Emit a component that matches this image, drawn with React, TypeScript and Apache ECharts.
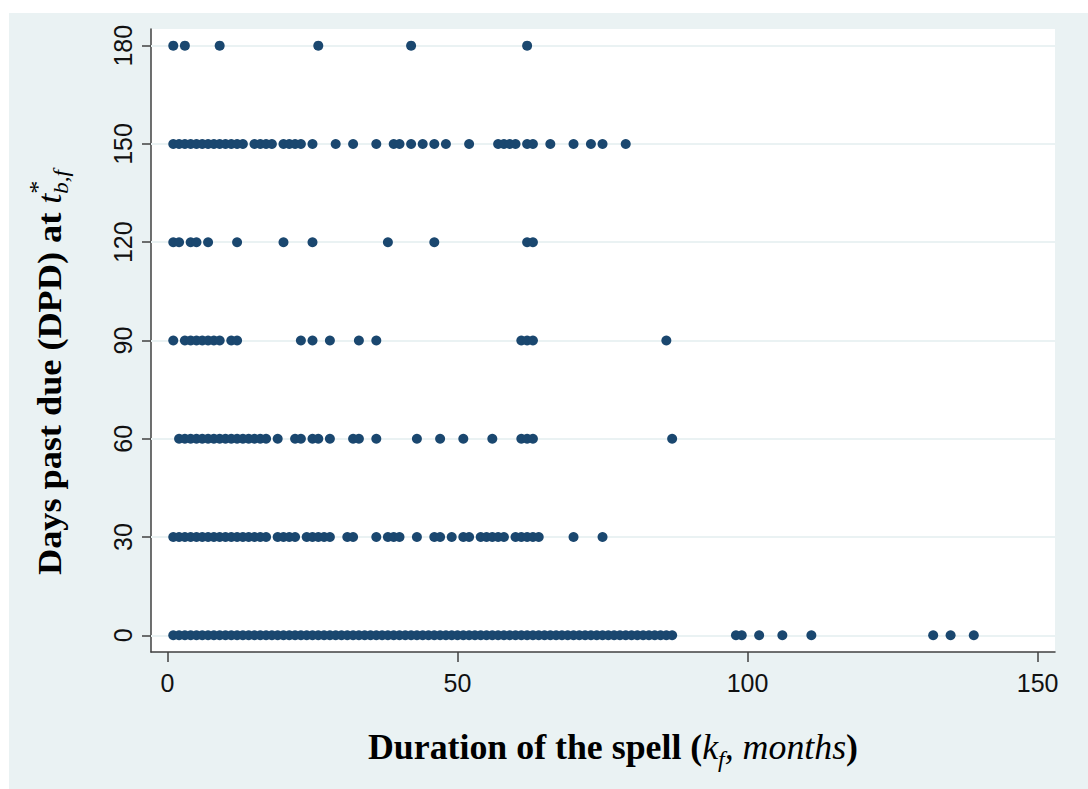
import React, { useEffect, useRef } from "react";
import * as echarts from "echarts";

// ---- data (duration of the spell in months, per DPD level) ----
const yTicks = [0, 30, 60, 90, 120, 150, 180];
const xTicks = [0, 50, 100, 150];

const dpd180 = [1, 3, 9, 26, 42, 62];
const dpd150 = [1, 2, 3, 4, 5, 6, 7, 8, 9, 10, 11, 12, 13, 15, 16, 17, 18, 20, 21, 22, 23, 25, 29, 32, 36, 39, 40, 42, 44, 46, 48, 52, 57, 58, 59, 60, 62, 63, 66, 70, 73, 75, 79];
const dpd120 = [1, 2, 4, 5, 7, 12, 20, 25, 38, 46, 62, 63];
const dpd90 = [1, 3, 4, 5, 6, 7, 8, 9, 11, 12, 23, 25, 28, 33, 36, 61, 62, 63, 86];
const dpd60 = [2, 3, 4, 5, 6, 7, 8, 9, 10, 11, 12, 13, 14, 15, 16, 17, 19, 22, 23, 25, 26, 28, 32, 33, 36, 43, 47, 51, 56, 61, 62, 63, 87];
const dpd30 = [1, 2, 3, 4, 5, 6, 7, 8, 9, 10, 11, 12, 13, 14, 15, 16, 17, 19, 20, 21, 22, 24, 25, 26, 27, 28, 31, 32, 36, 38, 39, 40, 43, 46, 47, 49, 51, 52, 54, 55, 56, 57, 58, 60, 61, 62, 63, 64, 70, 75];
const dpd0 = [1, 2, 3, 4, 5, 6, 7, 8, 9, 10, 11, 12, 13, 14, 15, 16, 17, 18, 19, 20, 21, 22, 23, 24, 25, 26, 27, 28, 29, 30, 31, 32, 33, 34, 35, 36, 37, 38, 39, 40, 41, 42, 43, 44, 45, 46, 47, 48, 49, 50, 51, 52, 53, 54, 55, 56, 57, 58, 59, 60, 61, 62, 63, 64, 65, 66, 67, 68, 69, 70, 71, 72, 73, 74, 75, 76, 77, 78, 79, 80, 81, 82, 83, 84, 85, 86, 87, 98, 99, 102, 106, 111, 132, 135, 139];

const rows: [number, number[]][] = [
  [0, dpd0],
  [30, dpd30],
  [60, dpd60],
  [90, dpd90],
  [120, dpd120],
  [150, dpd150],
  [180, dpd180],
];

const SERIF = '"Liberation Serif", "DejaVu Serif", serif';
const SANS = '"Liberation Sans", Arial, sans-serif';
const BG = "#eaf2f3";
const MARK = "#1a476f";

type Run = { text: string; size: number; bold?: boolean; italic?: boolean; dy?: number; advance?: boolean };

function measure(text: string, font: string): number {
  const ctx = document.createElement("canvas").getContext("2d");
  if (!ctx) return text.length * 10;
  ctx.font = font;
  return ctx.measureText(text).width;
}

function layoutRuns(runs: Run[]) {
  let x = 0;
  const els: any[] = [];
  for (const r of runs) {
    const font = `${r.italic ? "italic " : ""}${r.bold ? "bold " : ""}${r.size}px ${SERIF}`;
    const w = measure(r.text, font);
    els.push({
      type: "text",
      x,
      y: (r.dy || 0) - 0.34 * r.size,
      style: { text: r.text, font, fill: "#000", align: "left", verticalAlign: "middle" },
    });
    if (r.advance !== false) x += w;
  }
  return { els, width: x };
}

export default function App() {
  const ref = useRef<HTMLDivElement>(null);

  useEffect(() => {
    if (!ref.current) return;
    const chart = echarts.init(ref.current, undefined, { renderer: "svg" });

    const data: number[][] = [];
    rows.forEach(([dpd, months]) => months.forEach((m) => data.push([m, dpd])));

    const xt = layoutRuns([
      { text: "Duration of the spell (", size: 30, bold: true },
      { text: "k", size: 30, italic: true },
      { text: "f", size: 20, italic: true, dy: 7 },
      { text: ", months", size: 30, italic: true },
      { text: ")", size: 30, bold: true },
    ]);
    const xScale = 490 / xt.width;

    const yt = layoutRuns([
      { text: "Days past due (DPD) at ", size: 33, bold: true },
      { text: "t", size: 33, italic: true },
      { text: "*", size: 24, dy: -16, advance: false },
      { text: "b,f", size: 21, italic: true, dy: 7 },
    ]);
    const yScale = 405 / yt.width;

    const option: any = {
      animation: false,
      backgroundColor: "#ffffff",
      grid: { left: 151, right: 33, top: 29, bottom: 137, show: false },
      graphic: [
        { type: "rect", z: -10, silent: true, shape: { x: 9, y: 13, width: 1079, height: 776 }, style: { fill: BG } },
        { type: "rect", z: -9, silent: true, shape: { x: 151, y: 29, width: 904, height: 623 }, style: { fill: "#ffffff" } },
        { type: "group", x: 368, y: 759, scaleX: xScale, scaleY: xScale, children: xt.els },
        { type: "group", x: 61, y: 575, rotation: Math.PI / 2, scaleX: yScale, scaleY: 1, children: yt.els },
      ],
      xAxis: {
        type: "value",
        min: -2.84,
        max: 153,
        axisLine: { show: true, onZero: false, lineStyle: { color: "#404040", width: 1.5 } },
        axisTick: { show: true, customValues: xTicks, length: 10, lineStyle: { color: "#404040", width: 1.5 } },
        axisLabel: { customValues: xTicks, fontSize: 25, fontFamily: SANS, color: "#111", margin: 18 },
        splitLine: { show: false },
      },
      yAxis: {
        type: "value",
        min: -5.1,
        max: 185.1,
        axisLine: { show: true, onZero: false, lineStyle: { color: "#404040", width: 1.5 } },
        axisTick: { show: true, customValues: yTicks, length: 9, lineStyle: { color: "#404040", width: 1.5 } },
        axisLabel: { customValues: yTicks, rotate: 90, fontSize: 25, fontFamily: SANS, color: "#111", margin: 16 },
        splitLine: { show: false },
      },
      series: [
        {
          type: "scatter",
          data: [],
          silent: true,
          z: 1,
          markLine: {
            silent: true,
            symbol: "none",
            label: { show: false },
            lineStyle: { color: BG, width: 2, type: "solid" },
            data: yTicks.map((v) => ({ yAxis: v })),
          },
        },
        {
          type: "scatter",
          data,
          z: 5,
          symbol: "circle",
          symbolSize: 10,
          itemStyle: { color: MARK, opacity: 1 },
        },
      ],
    };

    chart.setOption(option);
    return () => chart.dispose();
  }, []);

  return (
    <div
      ref={ref}
      style={{ position: "fixed", left: 0, top: 0, width: 1088, height: 789 }}
    />
  );
}
